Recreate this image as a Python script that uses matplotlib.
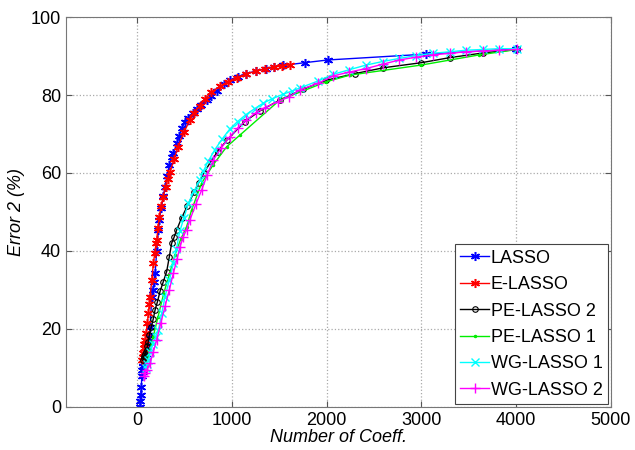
import matplotlib
matplotlib.use("Agg")
import matplotlib.pyplot as plt

plt.rcParams['font.family'] = ['Liberation Sans', 'DejaVu Sans']

lasso_x = [32, 34, 38, 45, 49, 55, 60, 67, 80, 90, 102, 115, 125, 137, 155, 165, 178, 190, 207, 225,
           235, 255, 277, 295, 312, 340, 365, 383, 418, 445, 470, 505, 540, 585, 628, 670, 733, 780, 839, 920,
           979, 1060, 1150, 1250, 1365, 1450, 1540, 1768, 2014, 3049, 4000]
lasso_y = [0, 1.5, 3, 5, 7.8, 9.5, 10.5, 11.2, 12.5, 13.5, 15.4, 17, 18.5, 20.5, 28.3, 30, 32, 34.3, 40, 45.4,
           48, 51, 54, 56.5, 59.1, 62, 64.2, 65, 67.6, 69.5, 71.5, 73, 74, 75.5, 76.5, 77.5, 78.7, 79.8, 81, 82.8,
           83.8, 84.7, 85.5, 86.1, 86.8, 87.2, 87.6, 88.3, 89.0, 90.5, 91.8]

elasso_x = [55, 60, 66, 70, 75, 84, 95, 108, 119, 130, 137, 155, 172, 186, 200, 207, 220, 232, 253, 274,
            300, 325, 347, 390, 432, 495, 558, 600, 663, 720, 785, 870, 955, 1050, 1150, 1250, 1350, 1450, 1530, 1611]
elasso_y = [12, 12.8, 13.8, 15, 16, 17.2, 19, 21.5, 24, 26.5, 28.3, 32.5, 36.8, 39.5, 42, 42.8, 46, 48.7, 51.5, 53.8,
            56.4, 58.5, 60.3, 63.5, 66.7, 70.5, 73.6, 75.4, 77.2, 79, 80.8, 82.2, 83.4, 84.5, 85.4, 86.1, 86.7, 87.2, 87.5, 87.8]

pe2_x = [63, 70, 78, 85, 92, 100, 108, 116, 130, 150, 170, 190, 215, 242, 275, 312, 340, 365, 390, 418,
         470, 530, 600, 650, 705, 780, 850, 950, 1137, 1300, 1505, 1750, 1996, 2300, 2600, 3000, 3300, 3650, 4014]
pe2_y = [12, 12.5, 13, 13.5, 14, 14.6, 15.5, 16.5, 18.5, 20.5, 22.5, 24.9, 27, 29.6, 32, 34.7, 38.5, 42, 43.5, 45.4,
         48.5, 51.5, 55, 57.5, 60, 63, 65.5, 68.5, 73.2, 76, 78.7, 81.5, 83.8, 85.5, 87, 88.3, 89.6, 90.8, 91.7]

pe1_x = [100, 130, 170, 220, 280, 340, 400, 460, 522, 575, 681, 800, 944, 1084, 1505, 1996, 2242, 3000, 3610, 4014]
pe1_y = [11, 14, 18, 23, 29, 34, 39, 43, 46.2, 50.5, 57.4, 62, 66.7, 69.7, 78.7, 83.4, 85.1, 87.7, 90.3, 91.7]

wg1_x = [95, 105, 119, 140, 165, 195, 225, 260, 295, 340, 383, 415, 450, 495, 540, 600, 663, 700, 750, 821,
         900, 979, 1060, 1150, 1240, 1330, 1420, 1540, 1630, 1716, 1909, 2067, 2240, 2418, 2590, 2768, 2940, 3119,
         3300, 3470, 3650, 3821, 4014]
wg1_y = [10, 11, 12, 14, 16, 18, 19.7, 24, 28.3, 32.5, 36.8, 40.5, 45, 48.5, 52.2, 55.3, 58.2, 60.5, 63, 66,
         68.8, 71.3, 73.2, 75, 76.5, 77.9, 79, 80.2, 81, 81.8, 83.6, 85.3, 86.5, 87.7, 88.6, 89.4, 90.1, 90.7,
         91.1, 91.5, 91.7, 91.9, 91.9]

wg2_x = [70, 84, 105, 137, 170, 207, 250, 295, 340, 383, 420, 453, 488, 522, 558, 620, 681, 740, 803, 890,
         979, 1060, 1154, 1250, 1350, 1488, 1600, 1716, 1909, 2067, 2240, 2418, 2590, 2768, 2940, 3119, 3300, 3470,
         3650, 3821, 4014]
wg2_y = [7.8, 8.7, 9.5, 11.2, 14, 17.2, 21.5, 25.8, 30, 34.3, 37.8, 41.1, 43.7, 45.4, 48, 52, 55.6, 59.5, 63.3, 66.5,
         69.3, 71.5, 73.6, 75.4, 76.8, 78.3, 79.5, 81.3, 83.0, 84.9, 85.9, 86.8, 87.9, 89.0, 89.7, 90.3, 90.7, 91.1,
         91.3, 91.5, 91.7]

labels = ['LASSO', 'E-LASSO', 'PE-LASSO 2', 'PE-LASSO 1', 'WG-LASSO 1', 'WG-LASSO 2']
x_ticks = [0, 1000, 2000, 3000, 4000, 5000]
y_ticks = [0, 20, 40, 60, 80, 100]

fig = plt.figure(figsize=(6.35, 4.5), dpi=100)
ax = fig.add_axes([0.104, 0.096, 0.858, 0.866])

star = (6, 2, 0)
ax.plot(lasso_x, lasso_y, color='blue', marker=star, markersize=6.5, mew=1.1, lw=1, label=labels[0])
ax.plot(elasso_x, elasso_y, color='red', marker=star, markersize=6.5, mew=1.1, lw=1, label=labels[1])
ax.plot(pe2_x, pe2_y, color='black', marker='o', markersize=4, mfc='none', mew=0.8, lw=1, label=labels[2])
ax.plot(pe1_x, pe1_y, color='#00ee00', marker='.', markersize=3, lw=1, label=labels[3])
ax.plot(wg1_x, wg1_y, color='cyan', marker='x', markersize=6, lw=1, label=labels[4])
ax.plot(wg2_x, wg2_y, color='magenta', marker='+', markersize=7, lw=1, label=labels[5])

ax.set_xlim(-750, 5000)
ax.set_ylim(0, 100)
ax.set_xticks(x_ticks)
ax.set_yticks(y_ticks)
ax.tick_params(direction='in', top=True, right=True, labelsize=13, length=4, color='#555555')
ax.grid(True, linestyle=':', color='#aaaaaa', linewidth=0.9)
for s in ax.spines.values():
    s.set_color('#777777')

ax.set_xlabel('Number of Coeff.', fontsize=13, style='italic', labelpad=0)
ax.set_ylabel('Error 2 (%)', fontsize=13, style='italic', labelpad=4)

leg = ax.legend(loc='lower right', fontsize=13, fancybox=False, edgecolor='#444444',
                handlelength=1.6, handletextpad=0.1, borderaxespad=0.15, labelspacing=0.52,
                borderpad=0.3, framealpha=1)
leg.get_frame().set_linewidth(0.8)

fig.savefig('out.png', dpi=100)
